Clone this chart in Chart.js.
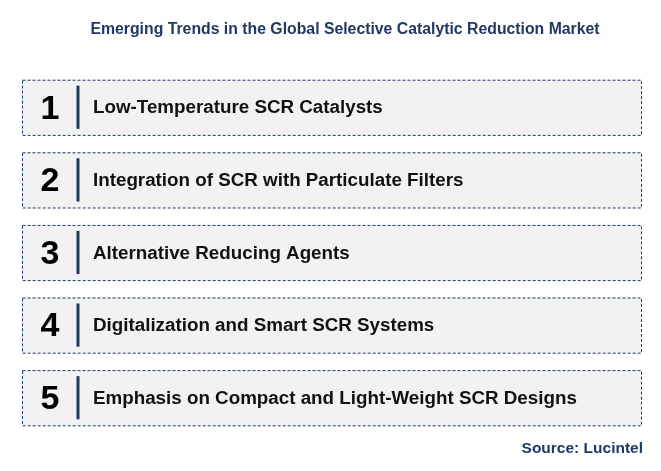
<!DOCTYPE html>
<html><head><meta charset="utf-8">
<script src="https://cdn.jsdelivr.net/npm/chart.js@4"></script>
<style>body{margin:0;background:#fff}</style>
</head><body>
<canvas id="c" width="661" height="471"></canvas>
<script>
const numbers = ['1', '2', '3', '4', '5'];
const trends = [
  'Low-Temperature SCR Catalysts',
  'Integration of SCR with Particulate Filters',
  'Alternative Reducing Agents',
  'Digitalization and Smart SCR Systems',
  'Emphasis on Compact and Light-Weight SCR Designs'
];
const fill = [1, 1, 1, 1, 1];

const NAVY = '#1f3864';

// draws dashed boxes, numbers, dividers and labels on top of the bars
const boxes = {
  id: 'boxes',
  afterDatasetsDraw(chart) {
    const ctx = chart.ctx;
    const meta = chart.getDatasetMeta(0);
    meta.data.forEach((bar, i) => {
      const p = bar.getProps(['x', 'y', 'base', 'height'], true);
      const top = p.y - p.height / 2, left = p.base;
      ctx.save();
      ctx.strokeStyle = NAVY;
      ctx.lineWidth = 1;
      ctx.setLineDash([3, 2]);
      ctx.strokeRect(left + 0.5, top + 0.5, p.x - left, p.height);
      ctx.setLineDash([]);
      ctx.fillStyle = '#000';
      ctx.font = 'bold 34px Arial, "Liberation Sans"';
      ctx.textAlign = 'center';
      ctx.textBaseline = 'middle';
      ctx.fillText(numbers[i], left + 28, p.y + 2);
      ctx.strokeStyle = NAVY;
      ctx.lineWidth = 3;
      ctx.beginPath();
      ctx.moveTo(left + 56, top + 6);
      ctx.lineTo(left + 56, top + p.height - 6);
      ctx.stroke();
      ctx.fillStyle = '#111';
      ctx.font = 'bold 18.8px Arial, "Liberation Sans"';
      ctx.textAlign = 'left';
      ctx.fillText(trends[i], left + 71, p.y + 1);
      ctx.restore();
    });
    ctx.save();
    ctx.fillStyle = NAVY;
    ctx.font = 'bold 15.8px Arial, "Liberation Sans"';
    ctx.textAlign = 'center';
    ctx.textBaseline = 'middle';
    ctx.fillText('Emerging Trends in the Global Selective Catalytic Reduction Market', 345, 30);
    ctx.textAlign = 'right';
    ctx.font = 'bold 15.5px Arial, "Liberation Sans"';
    ctx.fillText('Source: Lucintel', 643, 449);
    ctx.restore();
  }
};

new Chart(document.getElementById('c'), {
  type: 'bar',
  data: {
    labels: trends,
    datasets: [{ data: fill, backgroundColor: '#f2f2f2', borderWidth: 0,
      barPercentage: 0.76, categoryPercentage: 1 }]
  },
  options: {
    indexAxis: 'y',
    responsive: false,
    animation: false,
    layout: { padding: { left: 22, right: 20, top: 71, bottom: 37 } },
    scales: {
      x: { display: false, min: 0, max: 1 },
      y: { display: false }
    },
    plugins: { legend: { display: false }, tooltip: { enabled: false } }
  },
  plugins: [boxes]
});
</script>
</body></html>
